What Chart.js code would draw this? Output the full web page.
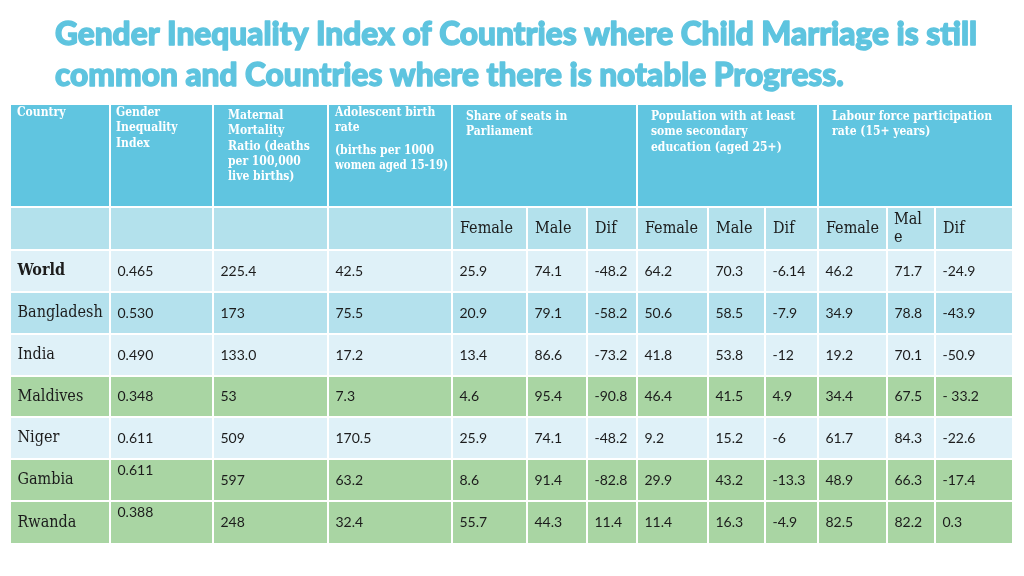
<!DOCTYPE html>
<html>
<head>
<meta charset="utf-8">
<script src="https://cdn.jsdelivr.net/npm/chart.js@4.4.1/dist/chart.umd.min.js"></script>
<style>
  html, body { margin: 0; padding: 0; background: #fff; }
  #wrap { width: 1024px; height: 576px; }
</style>
</head>
<body>
<div id="wrap"><canvas id="myTable" width="1024" height="576"></canvas></div>
<script>
// ---- data ----
var titleLines = [
    'Gender Inequality Index of Countries where Child Marriage is still',
    'common and Countries where there is notable Progress.'
];
var headerLabels = [
    ['Country'],
    ['Gender', 'Inequality', 'Index'],
    ['Maternal', 'Mortality', 'Ratio (deaths', 'per 100,000', 'live births)'],
    ['Adolescent birth', 'rate', '', '(births per 1000', 'women aged 15-19)'],
    ['Share of seats in', 'Parliament'],
    ['Population with at least', 'some secondary', 'education (aged 25+)'],
    ['Labour force participation', 'rate (15+ years)']
];
var subLabels = ['', '', '', '', 'Female', 'Male', 'Dif', 'Female', 'Male', 'Dif', 'Female', ['Mal', 'e'], 'Dif'];

var countries         = ['World', 'Bangladesh', 'India', 'Maldives', 'Niger', 'Gambia', 'Rwanda'];
var giiValues         = ['0.465', '0.530', '0.490', '0.348', '0.611', '0.611', '0.388'];
var maternalMortality = ['225.4', '173', '133.0', '53', '509', '597', '248'];
var adolescentBirth   = ['42.5', '75.5', '17.2', '7.3', '170.5', '63.2', '32.4'];
var seatsFemale       = ['25.9', '20.9', '13.4', '4.6', '25.9', '8.6', '55.7'];
var seatsMale         = ['74.1', '79.1', '86.6', '95.4', '74.1', '91.4', '44.3'];
var seatsDif          = ['-48.2', '-58.2', '-73.2', '-90.8', '-48.2', '-82.8', '11.4'];
var eduFemale         = ['64.2', '50.6', '41.8', '46.4', '9.2', '29.9', '11.4'];
var eduMale           = ['70.3', '58.5', '53.8', '41.5', '15.2', '43.2', '16.3'];
var eduDif            = ['-6.14', '-7.9', '-12', '4.9', '-6', '-13.3', '-4.9'];
var labourFemale      = ['46.2', '34.9', '19.2', '34.4', '61.7', '48.9', '82.5'];
var labourMale        = ['71.7', '78.8', '70.1', '67.5', '84.3', '66.3', '82.2'];
var labourDif         = ['-24.9', '-43.9', '-50.9', '- 33.2', '-22.6', '-17.4', '0.3'];

var columns = [countries, giiValues, maternalMortality, adolescentBirth,
    seatsFemale, seatsMale, seatsDif, eduFemale, eduMale, eduDif,
    labourFemale, labourMale, labourDif];

// ---- layout / style ----
var colEdges = [0, 100, 203, 318, 442, 517, 577, 627, 698, 755, 808, 877, 925, 1003];
var rowEdges = [0, 103, 146, 188, 230, 272, 313, 355, 397, 440];
var headerSpans = [[0, 1], [1, 2], [2, 3], [3, 4], [4, 7], [7, 10], [10, 13]];
var headerOffsets = [[7, 9], [6, 9], [15, 12], [7, 9], [14, 13], [14, 13], [14, 13]];
var rowColors = ['#dff1f8', '#b4e1ed', '#dff1f8', '#a9d5a3', '#dff1f8', '#a9d5a3', '#a9d5a3'];
var raisedCells = { '5_1': -10, '6_1': -10 };

var headerBg = '#60c5e0';
var subBg = '#b3e1ec';
var textColor = '#1c1c1c';
var serif = '"DejaVu Serif Condensed", "DejaVu Serif", serif';
var sans = 'Lato, "Noto Sans", sans-serif';

var tablePlugin = {
    id: 'tableCells',
    beforeDraw: function(chart) {
        var ctx = chart.ctx;
        var xs = chart.scales.x, ys = chart.scales.y;
        ctx.save();
        ctx.fillStyle = '#fff';
        ctx.fillRect(0, 0, chart.width, chart.height);

        function box(c0, c1, r0, r1, color) {
            var l = xs.getPixelForValue(colEdges[c0]);
            var r = xs.getPixelForValue(colEdges[c1]);
            var t = ys.getPixelForValue(rowEdges[r0]);
            var b = ys.getPixelForValue(rowEdges[r1]);
            ctx.fillStyle = color;
            ctx.fillRect(l + 1, t + 1, r - l - 2, b - t - 2);
            return { l: l, r: r, t: t, b: b };
        }

        ctx.textAlign = 'left';
        ctx.textBaseline = 'middle';

        // header row
        headerSpans.forEach(function(span, i) {
            var c = box(span[0], span[1], 0, 1, headerBg);
            ctx.fillStyle = '#ffffff';
            ctx.font = 'bold 12px ' + serif;
            var yy = c.t + headerOffsets[i][1];
            var maxW = c.r - c.l - headerOffsets[i][0] - 4;
            headerLabels[i].forEach(function(line) {
                if (line === '') { yy += 7; return; }
                ctx.fillText(line, c.l + headerOffsets[i][0], yy, maxW);
                yy += 15.3;
            });
        });

        // sub header row
        for (var j = 0; j < 13; j++) {
            var s = box(j, j + 1, 1, 2, subBg);
            var lab = subLabels[j];
            ctx.fillStyle = textColor;
            ctx.font = '16px ' + serif;
            if (Array.isArray(lab)) {
                ctx.fillText(lab[0], s.l + 7, (s.t + s.b) / 2 - 9);
                ctx.fillText(lab[1], s.l + 7, (s.t + s.b) / 2 + 9);
            } else if (lab) {
                ctx.fillText(lab, s.l + 8, (s.t + s.b) / 2);
            }
        }

        // body rows
        for (var r = 0; r < countries.length; r++) {
            for (var k = 0; k < columns.length; k++) {
                var cb = box(k, k + 1, r + 2, r + 3, rowColors[r]);
                var dy = raisedCells[r + '_' + k] || 0;
                ctx.fillStyle = textColor;
                if (k === 0) {
                    ctx.font = (r === 0 ? 'bold ' : '') + '16px ' + serif;
                } else {
                    ctx.font = '14px ' + sans;
                }
                ctx.fillText(columns[k][r], cb.l + 7.5, (cb.t + cb.b) / 2 + dy);
            }
        }

        // title (stroked a little to get the heavy look)
        ctx.fillStyle = '#5ec4df';
        ctx.strokeStyle = '#5ec4df';
        ctx.lineWidth = 1.4;
        ctx.lineJoin = 'round';
        ctx.textBaseline = 'alphabetic';
        ctx.font = '900 32px Lato, "Open Sans", sans-serif';
        var w1 = ctx.measureText(titleLines[0]).width;
        var k2 = 922 / w1;
        ctx.fillText(titleLines[0], 55, 45, w1 * k2);
        ctx.strokeText(titleLines[0], 55, 45, w1 * k2);
        var w2 = ctx.measureText(titleLines[1]).width;
        ctx.fillText(titleLines[1], 55, 86, w2 * k2);
        ctx.strokeText(titleLines[1], 55, 86, w2 * k2);
        ctx.restore();
    }
};

var ctx = document.getElementById('myTable').getContext('2d');
var myTable = new Chart(ctx, {
    type: 'scatter',
    data: { datasets: [{ data: [] }] },
    options: {
        responsive: false,
        animation: false,
        devicePixelRatio: 1,
        layout: { padding: { left: 10, right: 11, top: 104, bottom: 32 } },
        plugins: { legend: { display: false }, tooltip: { enabled: false } },
        scales: {
            x: { type: 'linear', min: 0, max: colEdges[colEdges.length - 1], display: false },
            y: { type: 'linear', min: 0, max: rowEdges[rowEdges.length - 1], reverse: true, display: false }
        }
    },
    plugins: [tablePlugin]
});
</script>
</body>
</html>
